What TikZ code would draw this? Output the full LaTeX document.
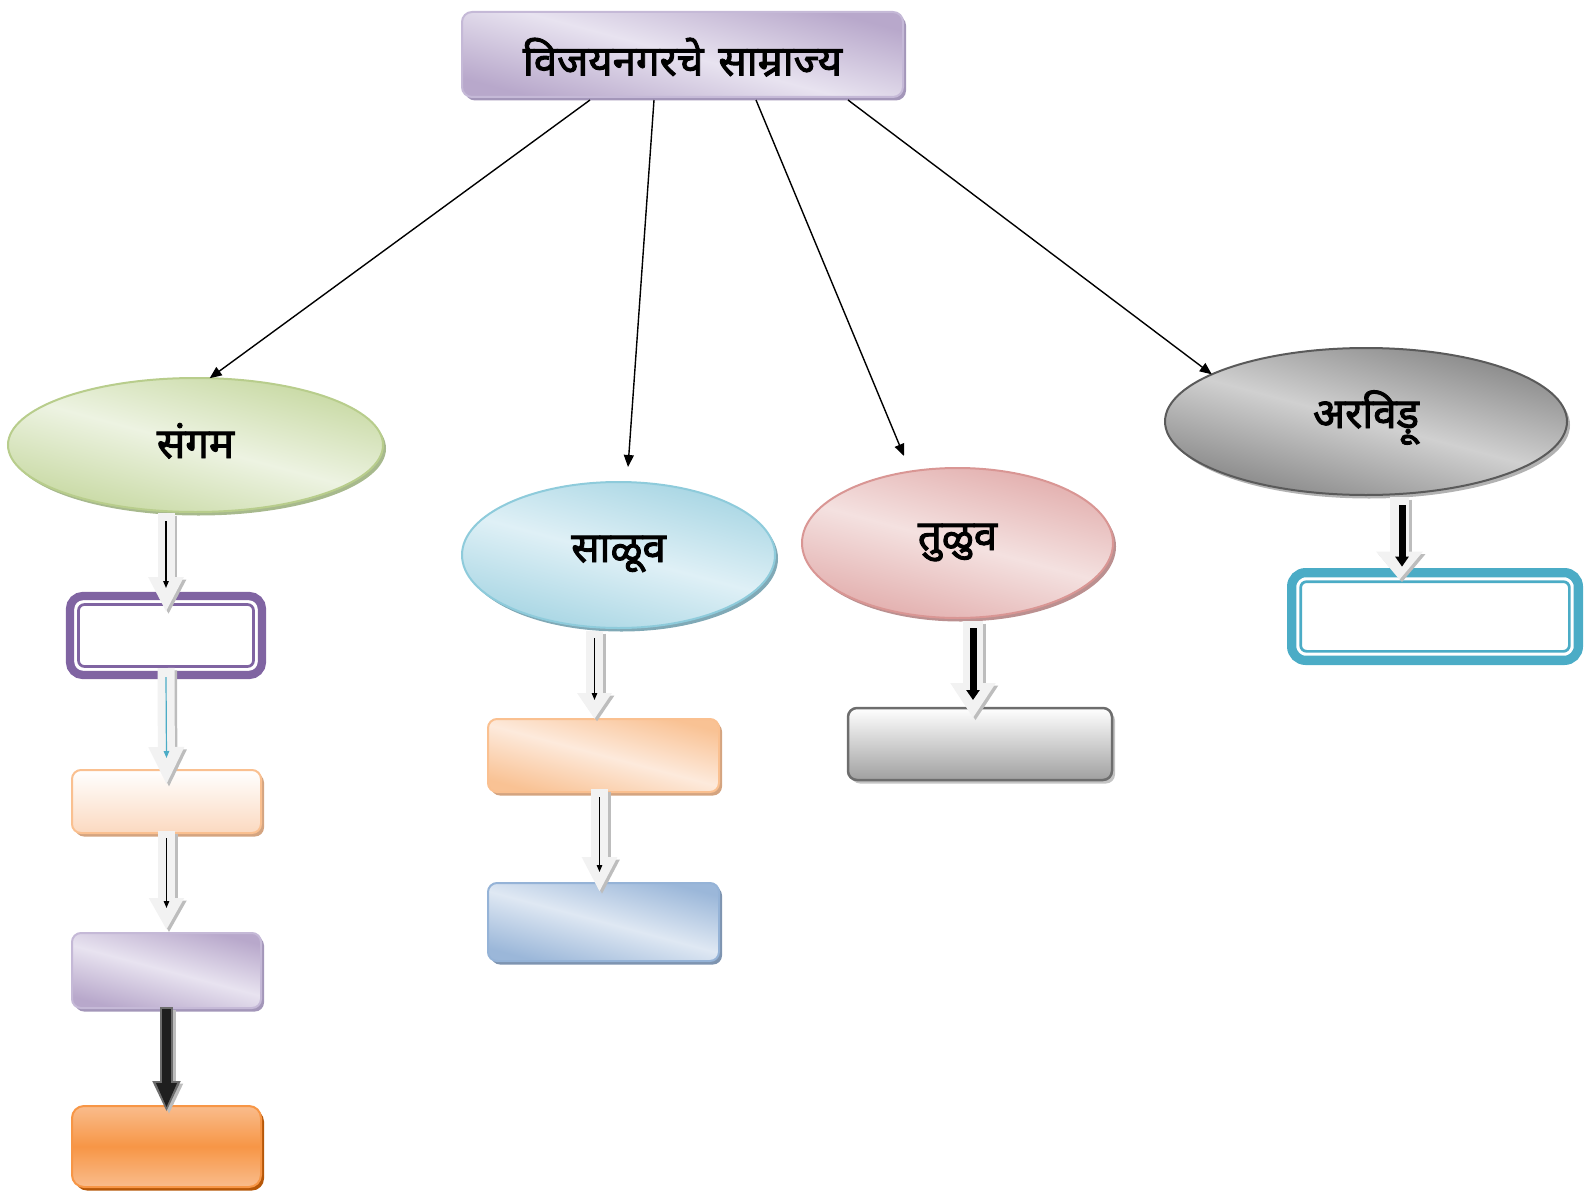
\documentclass[tikz,border=0pt]{standalone}
\usepackage{fontspec}
\newfontfamily\deva[Script=Devanagari,FakeBold=2.2]{Noto Sans}
\usetikzlibrary{shapes.geometric,arrows.meta,shadows}
\definecolor{lavD}{HTML}{B8A8CB}
\definecolor{lavL}{HTML}{E8E3F0}
\definecolor{lavB}{HTML}{C5B9D7}
\definecolor{lavS}{HTML}{A396B9}
\definecolor{grnD}{HTML}{C6D8A0}
\definecolor{grnL}{HTML}{EDF3E2}
\definecolor{grnB}{HTML}{B8CD8C}
\definecolor{grnS}{HTML}{A7B98D}
\definecolor{bluD}{HTML}{A6D5E3}
\definecolor{bluL}{HTML}{DFF0F6}
\definecolor{bluB}{HTML}{8ECBDB}
\definecolor{bluS}{HTML}{80A9B6}
\definecolor{pnkD}{HTML}{E2ADAC}
\definecolor{pnkL}{HTML}{F4E1E0}
\definecolor{pnkB}{HTML}{D99694}
\definecolor{pnkS}{HTML}{BB9090}
\definecolor{gryD}{HTML}{858585}
\definecolor{gryL}{HTML}{D0D0D0}
\definecolor{gryB}{HTML}{5A5A5A}
\definecolor{gryS}{HTML}{B2B2B2}
\definecolor{pchB}{HTML}{FAC090}
\definecolor{pchL}{HTML}{FBD9C0}
\definecolor{pchS}{HTML}{D4A480}
\definecolor{pchD}{HTML}{F9C294}
\definecolor{pchM}{HTML}{FDEADC}
\definecolor{orgM}{HTML}{F79646}
\definecolor{orgL}{HTML}{F9BC8C}
\definecolor{orgS}{HTML}{B65708}
\definecolor{bxD}{HTML}{9BB7D9}
\definecolor{bxL}{HTML}{DFE8F3}
\definecolor{bxB}{HTML}{95B3D7}
\definecolor{bxS}{HTML}{7E94B0}
\definecolor{gryBox}{HTML}{A0A0A0}
\definecolor{gryBrd}{HTML}{6D6D6D}
\definecolor{gryBS}{HTML}{C4C4C4}
\definecolor{purp}{HTML}{8064A2}
\definecolor{tealc}{HTML}{4BACC6}
\definecolor{barF}{HTML}{F2F2F2}
\definecolor{barS}{HTML}{BDBDBD}
\newcommand\blockarrow[5]{%
  \draw[draw=barS, line width=#3, -{Triangle[length=#4,width=#5]},
        transform canvas={shift={(2.5pt,-2.5pt)}}] #1 -- #2;
  \draw[draw=barF, line width=#3, -{Triangle[length=#4,width=#5]}] #1 -- #2;}
\begin{document}
\begin{tikzpicture}[x=1pt,y=-1pt,
  shp/.style={outer sep=0pt, inner sep=0pt},
  ell/.style={shp, ellipse, line width=2pt},
  bx/.style={shp, rectangle, rounded corners=9pt, line width=2pt},
  ds/.style={drop shadow={shadow xshift=3pt, shadow yshift=-3.5pt, fill=#1, opacity=1}},
  diag/.style 2 args={top color=#1, bottom color=#1, middle color=#2, shading angle=-15},
  vert/.style 2 args={top color=#1, bottom color=#2},
  lbl/.style={font=\deva\fontsize{42}{48}\selectfont, text depth=0pt},
  conn/.style={draw=black, line width=1.4pt, -{Triangle[length=12pt,width=10pt]}},
  inarrow/.style={draw=#1, line width=1.2pt, -{Triangle[length=7pt,width=5.5pt]}},
  inarrow/.default=black,
  inthick/.style={draw=black, line width=7pt, -{Triangle[length=10pt,width=13pt]}}]
\useasboundingbox (0,0) rectangle (1589,1196);

% title
\node[bx, rounded corners=10pt, diag={lavD}{lavL}, draw=lavB, ds=lavS,
  minimum width=441pt, minimum height=85pt, lbl, text height=42pt] (title) at (682.5,54.5) {विजयनगरचे\hspace{4pt} साम्राज्य};

% dynasties
\node[ell, diag={grnD}{grnL}, draw=grnB, ds=grnS, minimum width=375pt, minimum height=134pt,
  lbl, text height=26pt] (sangam) at (195.5,445) {संगम};
\node[ell, diag={bluD}{bluL}, draw=bluB, ds=bluS, minimum width=313pt, minimum height=146pt,
  lbl, text height=14pt] (saluva) at (618.5,555) {साळूव};
\node[ell, diag={pnkD}{pnkL}, draw=pnkB, ds=pnkS, minimum width=311pt, minimum height=150pt,
  lbl, text height=14pt] (tuluva) at (957.5,543) {तुळुव};
\node[ell, diag={gryD}{gryL}, draw=gryB, ds=gryS, minimum width=402pt, minimum height=147pt,
  lbl, text height=13pt] (aravidu) at (1366,421.5) {अरविड़ू};

% boxes
\node[shp, rounded corners=13pt, draw=purp, line width=8.3pt, fill=white,
  minimum width=192pt, minimum height=79pt] (b1) at (166,635.5) {};
\draw[draw=purp, line width=2.7pt, rounded corners=6pt]
  ([shift={(8.5pt,-8.5pt)}]b1.north west) rectangle ([shift={(-8.5pt,8.5pt)}]b1.south east);
\node[bx, vert={white}{pchL}, draw=pchB, ds=pchS, minimum width=189pt, minimum height=63pt] (b2) at (166.5,801.5) {};
\node[bx, diag={lavD}{lavL}, draw=lavB, ds=lavS, minimum width=189pt, minimum height=75pt] (b3) at (166.5,970.5) {};
\node[bx, rounded corners=12pt, top color=orgL, bottom color=orgL, middle color=orgM, draw=orgM, ds=orgS,
  minimum width=189pt, minimum height=81pt] (b4) at (166.5,1146.5) {};
\node[bx, diag={pchD}{pchM}, draw=pchB, ds=pchS, minimum width=231pt, minimum height=73pt] (s1) at (603.5,755.5) {};
\node[bx, diag={bxD}{bxL}, draw=bxB, ds=bxS, minimum width=231pt, minimum height=78pt] (s2) at (603.5,922) {};
\node[bx, vert={white}{gryBox}, draw=gryBrd, line width=2.5pt, ds=gryBS,
  minimum width=264pt, minimum height=72pt] (t1) at (980,744) {};
\node[shp, rounded corners=14pt, draw=tealc, line width=9.3pt, fill=white,
  minimum width=286.7pt, minimum height=87.7pt] (a1) at (1435,616.5) {};
\draw[draw=tealc, line width=2.7pt, rounded corners=6pt]
  ([shift={(9pt,-9pt)}]a1.north west) rectangle ([shift={(-9pt,9pt)}]a1.south east);

% connectors from title
\draw[conn] ([shift={(-92.5pt,-3pt)}]title.south) -- (sangam.78);
\draw[conn] ([shift={(-28.5pt,-3pt)}]title.south) -- ([shift={(9.5pt,15pt)}]saluva.north);
\draw[conn] ([shift={(73.5pt,-3pt)}]title.south) -- ([shift={(-53.5pt,12pt)}]tuluva.north);
\draw[conn] ([shift={(165.5pt,-3pt)}]title.south) -- (aravidu.163);

% sangam column
\coordinate (c1) at (b1.north |- sangam.south);
\blockarrow{([yshift=-1pt]c1)}{([yshift=-16pt]b1.north)}{17pt}{35pt}{33pt}
\draw[inarrow] ([yshift=-9pt]c1) -- ([yshift=8pt]b1.north);

\blockarrow{([yshift=7pt]b1.south)}{([yshift=-15pt]b2.north)}{17pt}{38pt}{33pt}
\draw[inarrow=tealc] ([yshift=-2pt]b1.south) -- ([yshift=12pt]b2.north);

\blockarrow{([yshift=2pt]b2.south)}{([yshift=3pt]b3.north)}{17pt}{32pt}{33pt}
\draw[inarrow] ([yshift=-5pt]b2.south) -- ([yshift=25pt]b3.north);

\draw[draw=barS, line width=13pt, -{Triangle[length=31pt,width=26pt]}, transform canvas={shift={(2.5pt,-2.5pt)}}]
  ([yshift=1pt]b3.south) -- ([yshift=-6pt]b4.north);
\draw[draw=gryBrd, line width=13pt, -{Triangle[length=31pt,width=26pt]}]
  ([yshift=1pt]b3.south) -- ([yshift=-6pt]b4.north);
\draw[draw=black!88, line width=9pt, -{Triangle[length=25pt,width=19pt]}]
  ([yshift=-1pt]b3.south) -- ([yshift=-2pt]b4.north);

% saluva column
\coordinate (x5) at ([xshift=-9pt]s1.north);
\coordinate (c5) at (x5 |- saluva.south);
\blockarrow{([yshift=-3pt]c5)}{(x5)}{17pt}{26pt}{33pt}
\draw[inarrow] ([yshift=-10pt]c5) -- ([yshift=19pt]x5);

\coordinate (x6) at ([xshift=-4pt]s2.north);
\coordinate (c6) at (x6 |- s1.south);
\blockarrow{([yshift=3pt]c6)}{([yshift=-9pt]x6)}{17pt}{35pt}{33pt}
\draw[inarrow] ([yshift=-5pt]c6) -- ([yshift=11pt]x6);

% tuluva column
\coordinate (x7) at ([xshift=-7pt]t1.north);
\coordinate (c7) at (x7 |- tuluva.south);
\blockarrow{([yshift=-3pt]c7)}{([yshift=-10pt]x7)}{20pt}{35pt}{43pt}
\draw[inthick] ([yshift=-10pt]c7) -- ([yshift=8pt]x7);

% aravidu column
\coordinate (x8) at ([xshift=-35.5pt]a1.north);
\coordinate (c8) at (x8 |- aravidu.south);
\blockarrow{([yshift=-2pt]c8)}{([yshift=-7pt]x8)}{19pt}{28pt}{45pt}
\draw[inthick] ([shift={(2.5pt,-10pt)}]c8) -- ([shift={(2.5pt,6pt)}]x8);
\end{tikzpicture}
\end{document}
